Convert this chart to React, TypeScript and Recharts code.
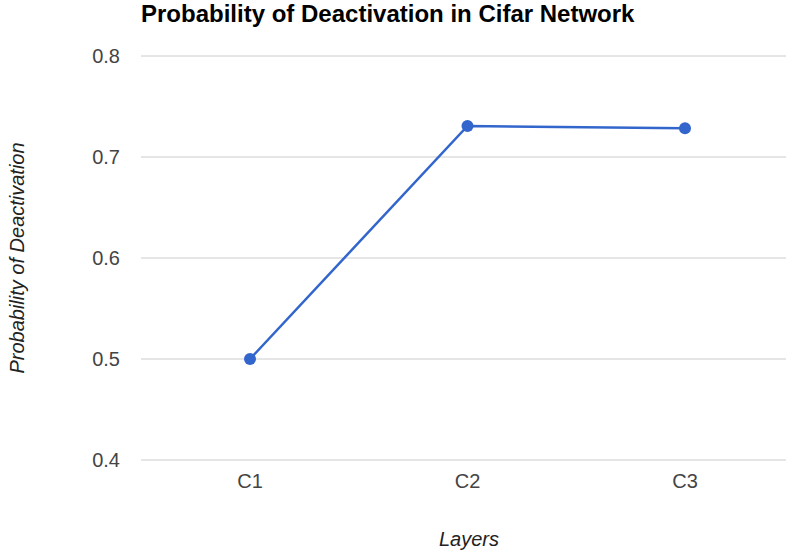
import React from "react";
import { LineChart, Line, XAxis, YAxis, CartesianGrid, Customized } from "recharts";

const categories = ["C1", "C2", "C3"];
const values = [0.5, 0.7307, 0.7285];
const yTicks = [0.4, 0.5, 0.6, 0.7, 0.8];

const data = categories.map((c, i) => ({ layer: c, p: values[i] }));

const FONT = "'Liberation Sans', Arial, sans-serif";

export default function App() {
  return (
    <div style={{ position: "absolute", left: 0, top: 0, width: 786, height: 552, overflow: "hidden", background: "#fff" }}>
      <LineChart
        width={800}
        height={552}
        data={data}
        margin={{ top: 56, right: 6, bottom: 62, left: 0 }}
      >
        <CartesianGrid horizontal vertical={false} stroke="#cccccc" strokeWidth={1} />
        <XAxis
          dataKey="layer"
          axisLine={false}
          tickLine={false}
          height={30}
          padding={{ left: 109, right: 109 }}
          tick={{ fill: "#444", fontSize: 20, fontFamily: FONT }}
          tickMargin={8}
        />
        <YAxis
          domain={[0.4, 0.8]}
          ticks={yTicks}
          axisLine={false}
          tickLine={false}
          tick={{ fill: "#444", fontSize: 20, fontFamily: FONT }}
          tickFormatter={(v: number) => v.toFixed(1)}
          width={141}
          tickMargin={15}
        />
        <Line
          type="linear"
          dataKey="p"
          stroke="#3366cc"
          strokeWidth={2.5}
          dot={{ r: 6, fill: "#3366cc", stroke: "#3366cc", strokeWidth: 0 }}
          activeDot={false}
          isAnimationActive={false}
        />
        <Customized
          component={() => (
            <g>
              <text x={141} y={22} fontFamily={FONT} fontSize={24} fontWeight="bold" fill="#000">
                Probability of Deactivation in Cifar Network
              </text>
              <text x={469} y={546} textAnchor="middle" fontFamily={FONT} fontSize={20} fontStyle="italic" fill="#222">
                Layers
              </text>
              <text
                x={24}
                y={258}
                textAnchor="middle"
                transform="rotate(-90 24 258)"
                fontFamily={FONT}
                fontSize={20}
                fontStyle="italic"
                fill="#222"
              >
                Probability of Deactivation
              </text>
            </g>
          )}
        />
      </LineChart>
    </div>
  );
}
